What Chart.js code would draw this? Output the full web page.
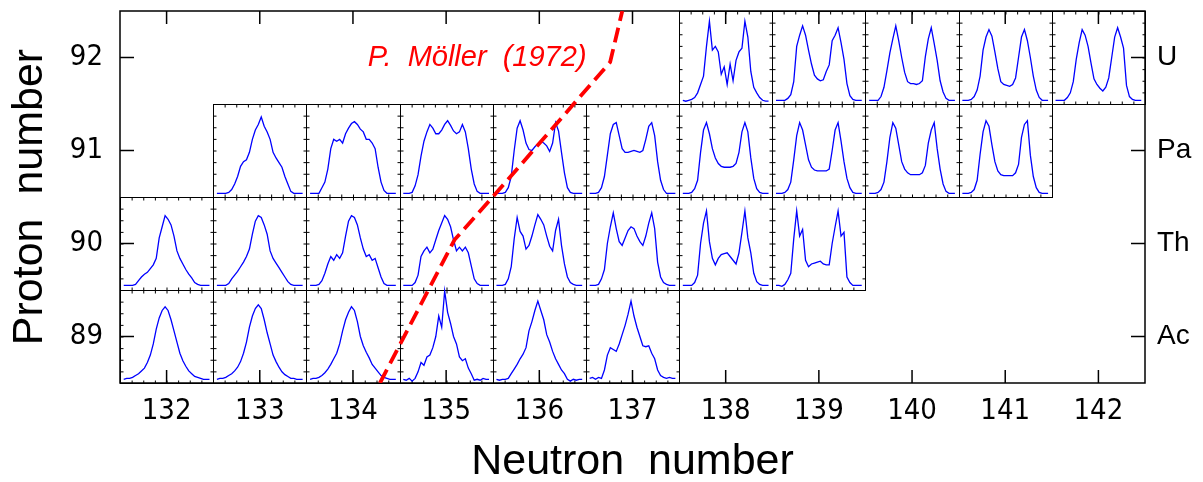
<!DOCTYPE html>
<html>
<head>
<meta charset="utf-8">
<title>Fragment charge distributions</title>
<script src="https://cdn.jsdelivr.net/npm/chart.js@4.4.1/dist/chart.umd.min.js"></script>
<style>
  body { margin: 0; background: #fff; }
  #wrap { width: 1203px; height: 482px; }
</style>
</head>
<body>
<div id="wrap"><canvas id="chargeChart" width="1203" height="482"></canvas></div>
<script>
const neutronTicks = [132, 133, 134, 135, 136, 137, 138, 139, 140, 141, 142];
const protonTicks = [89, 90, 91, 92];
const elementNames = ["Ac", "Th", "Pa", "U"];

// P. Moller (1972) boundary, neutron / proton number
const mollerN = [134.29, 135.09, 135.5, 136.76, 136.89];
const mollerZ = [88.5, 90.04, 90.5, 91.95, 92.5];
const mollerLabel = "P.  Möller  (1972)";

// fragment charge yields, read left to right across each box (% of box height)
const u138 = [4, 3, 4, 5, 7, 12, 21, 30, 62, 89, 58, 62, 56, 32, 40, 21, 43, 25, 47, 56, 60, 89, 72, 35, 18, 12, 7, 4, 3, 3];
const u139 = [4, 4, 4, 4, 6, 10, 24, 62, 74, 84, 74, 58, 43, 31, 27, 25, 26, 35, 42, 68, 74, 82, 66, 48, 22, 9, 5, 4, 4, 4];
const u140 = [4, 4, 4, 4, 8, 18, 36, 55, 70, 84, 68, 50, 34, 24, 22, 22, 21, 22, 25, 51, 70, 82, 65, 47, 25, 13, 6, 4, 4, 4];
const u141 = [4, 4, 4, 5, 8, 15, 30, 58, 72, 80, 73, 56, 38, 24, 21, 20, 19, 21, 28, 50, 72, 80, 68, 50, 30, 15, 7, 4, 4, 4];
const u142 = [4, 4, 4, 4, 7, 12, 24, 48, 66, 80, 74, 62, 44, 27, 21, 17, 14, 18, 28, 50, 72, 82, 72, 60, 20, 8, 5, 4, 4, 4];

const pa133 = [4, 4, 4, 4, 5, 8, 14, 22, 33, 38, 40, 48, 62, 72, 78, 86, 76, 70, 62, 48, 42, 37, 32, 22, 14, 6, 4, 4, 4, 4];
const pa134 = [4, 4, 4, 4, 10, 16, 30, 52, 62, 60, 62, 58, 68, 74, 79, 81, 78, 73, 70, 62, 62, 58, 52, 32, 16, 7, 4, 4, 4, 4];
const pa135 = [4, 4, 4, 5, 12, 24, 44, 60, 70, 78, 74, 68, 68, 72, 78, 82, 77, 71, 68, 70, 78, 70, 52, 30, 14, 6, 4, 4, 4, 4];
const pa136 = [4, 4, 4, 5, 10, 22, 50, 74, 82, 72, 58, 51, 50, 54, 57, 60, 58, 55, 49, 58, 80, 71, 48, 26, 10, 5, 4, 4, 4, 4];
const pa137 = [4, 4, 4, 5, 10, 22, 45, 68, 78, 80, 66, 52, 48, 48, 49, 50, 49, 48, 50, 62, 76, 80, 66, 38, 18, 8, 4, 4, 4, 4];
const pa138 = [4, 4, 4, 5, 9, 18, 48, 72, 80, 68, 52, 42, 36, 33, 32, 32, 32, 33, 36, 48, 70, 80, 70, 42, 20, 9, 5, 4, 4, 4];
const pa139 = [4, 4, 4, 5, 8, 16, 40, 66, 80, 72, 56, 40, 32, 29, 28, 28, 28, 28, 30, 50, 72, 80, 60, 38, 20, 10, 5, 4, 4, 4];
const pa140 = [4, 4, 4, 5, 8, 16, 38, 64, 80, 74, 56, 38, 30, 26, 24, 24, 24, 24, 26, 34, 58, 72, 80, 52, 30, 14, 6, 4, 4, 4];
const pa141 = [4, 4, 4, 5, 8, 18, 46, 70, 82, 76, 56, 38, 28, 24, 23, 23, 23, 23, 26, 35, 64, 78, 82, 45, 22, 10, 5, 4, 4, 4];

const th132 = [5, 5, 5, 5, 6, 10, 14, 17, 19, 23, 27, 34, 56, 68, 80, 76, 70, 58, 42, 34, 28, 22, 17, 13, 8, 6, 5, 5, 5, 5];
const th133 = [5, 5, 5, 5, 7, 12, 16, 20, 25, 30, 36, 44, 60, 74, 80, 78, 70, 60, 42, 34, 29, 24, 19, 14, 9, 6, 5, 5, 5, 5];
const th134 = [5, 5, 5, 6, 10, 18, 28, 36, 32, 38, 34, 40, 58, 74, 80, 78, 70, 56, 44, 36, 38, 32, 34, 24, 14, 7, 5, 5, 5, 5];
const th135 = [5, 5, 5, 5, 8, 16, 36, 42, 46, 40, 44, 54, 64, 72, 80, 76, 68, 54, 42, 46, 42, 46, 40, 26, 12, 7, 5, 5, 5, 5];
const th136 = [5, 5, 5, 6, 12, 25, 55, 78, 63, 58, 44, 48, 58, 70, 81, 76, 70, 58, 47, 42, 64, 76, 48, 28, 14, 8, 6, 5, 5, 5];
const th137 = [5, 5, 5, 6, 12, 22, 50, 68, 83, 66, 52, 48, 56, 64, 68, 66, 58, 52, 48, 58, 72, 83, 66, 30, 14, 8, 6, 5, 5, 5];
const th138 = [5, 5, 5, 5, 8, 16, 50, 72, 85, 52, 34, 27, 34, 38, 39, 40, 36, 32, 28, 40, 62, 85, 56, 40, 18, 9, 6, 5, 5, 5];
const th139 = [5, 5, 4, 6, 11, 18, 55, 85, 58, 65, 32, 25, 28, 29, 30, 31, 28, 27, 27, 50, 68, 85, 58, 62, 14, 8, 5, 5, 5, 5];

const ac132 = [4, 5, 5, 6, 8, 10, 13, 16, 22, 30, 42, 58, 70, 78, 82, 78, 68, 56, 44, 32, 24, 18, 13, 10, 7, 6, 5, 4, 4, 4];
const ac133 = [4, 5, 5, 6, 8, 10, 13, 17, 23, 32, 44, 60, 72, 80, 84, 80, 68, 54, 42, 30, 23, 17, 12, 9, 7, 5, 5, 4, 4, 4];
const ac134 = [4, 5, 5, 6, 8, 11, 15, 20, 26, 32, 42, 56, 68, 76, 82, 78, 66, 50, 40, 33, 27, 20, 16, 12, 8, 6, 5, 4, 4, 4];
const ac135 = [4, 3, 5, 2, 5, 12, 22, 19, 28, 30, 38, 50, 72, 60, 99, 76, 64, 50, 42, 28, 24, 26, 16, 10, 3, 4, 3, 5, 4, 4];
const ac136 = [4, 3, 4, 4, 5, 10, 15, 20, 26, 31, 38, 56, 66, 78, 88, 78, 68, 52, 44, 34, 26, 20, 14, 10, 4, 2, 4, 3, 4, 4];
const ac137 = [5, 6, 4, 6, 5, 14, 30, 38, 36, 34, 42, 52, 62, 74, 88, 72, 60, 50, 40, 39, 40, 32, 26, 14, 8, 6, 5, 6, 5, 5];

const cells = [
  { n: 138, z: 92, yields: u138 }, { n: 139, z: 92, yields: u139 }, { n: 140, z: 92, yields: u140 },
  { n: 141, z: 92, yields: u141 }, { n: 142, z: 92, yields: u142 },
  { n: 133, z: 91, yields: pa133 }, { n: 134, z: 91, yields: pa134 }, { n: 135, z: 91, yields: pa135 },
  { n: 136, z: 91, yields: pa136 }, { n: 137, z: 91, yields: pa137 }, { n: 138, z: 91, yields: pa138 },
  { n: 139, z: 91, yields: pa139 }, { n: 140, z: 91, yields: pa140 }, { n: 141, z: 91, yields: pa141 },
  { n: 132, z: 90, yields: th132 }, { n: 133, z: 90, yields: th133 }, { n: 134, z: 90, yields: th134 },
  { n: 135, z: 90, yields: th135 }, { n: 136, z: 90, yields: th136 }, { n: 137, z: 90, yields: th137 },
  { n: 138, z: 90, yields: th138 }, { n: 139, z: 90, yields: th139 },
  { n: 132, z: 89, yields: ac132 }, { n: 133, z: 89, yields: ac133 }, { n: 134, z: 89, yields: ac134 },
  { n: 135, z: 89, yields: ac135 }, { n: 136, z: 89, yields: ac136 }, { n: 137, z: 89, yields: ac137 },
];

const datasets = [
  {
    label: mollerLabel,
    data: mollerN.map((n, i) => ({ x: n, y: mollerZ[i] })),
    borderColor: "#ff0000",
    borderWidth: 3.8,
    borderDash: [15, 7],
    pointRadius: 0,
    tension: 0,
    fill: false,
  },
];

cells.forEach((c) => {
  const last = c.yields.length - 1;
  datasets.push({
    label: `Z=${c.z} N=${c.n}`,
    data: c.yields.map((v, i) => ({
      x: c.n - 0.46 + (0.92 * i) / last,
      y: c.z - 0.5 + v / 100,
    })),
    borderColor: "#0000ff",
    borderWidth: 1.3,
    pointRadius: 0,
    tension: 0,
    fill: false,
  });
});

function line(ctx, x1, y1, x2, y2) {
  ctx.beginPath();
  ctx.moveTo(x1, y1);
  ctx.lineTo(x2, y2);
  ctx.stroke();
}

// boxes around each nucleus, outer frame and the inward ticks
const boxPlugin = {
  id: "nucleusBoxes",
  beforeDatasetsDraw(chart) {
    const { ctx, chartArea: a, scales } = chart;
    const x = scales.x, y = scales.y;
    ctx.save();
    ctx.strokeStyle = "#000";
    ctx.lineWidth = 1;
    cells.forEach((c) => {
      const l = Math.round(x.getPixelForValue(c.n - 0.5)) + 0.5;
      const r = Math.round(x.getPixelForValue(c.n + 0.5)) + 0.5;
      const t = Math.round(y.getPixelForValue(c.z + 0.5)) + 0.5;
      const b = Math.round(y.getPixelForValue(c.z - 0.5)) + 0.5;
      ctx.strokeRect(l, t, r - l, b - t);
      for (let k = 1; k < 8; k++) {
        const px = l + ((r - l) * k) / 8;
        const py = t + ((b - t) * k) / 8;
        line(ctx, px, b, px, b - 3);
        line(ctx, px, t, px, t + 3);
        line(ctx, l, py, l + 3, py);
        line(ctx, r, py, r - 3, py);
      }
    });
    ctx.lineWidth = 1.5;
    ctx.strokeRect(a.left, a.top, a.right - a.left, a.bottom - a.top);
    neutronTicks.forEach((n) => {
      const px = x.getPixelForValue(n);
      line(ctx, px, a.bottom, px, a.bottom - 13);
      line(ctx, px, a.top, px, a.top + 13);
    });
    protonTicks.forEach((z) => {
      const py = y.getPixelForValue(z);
      line(ctx, a.left, py, a.left + 14, py);
      line(ctx, a.right, py, a.right - 14, py);
    });
    ctx.restore();
  },
  afterDatasetsDraw(chart) {
    const { ctx, scales } = chart;
    ctx.save();
    ctx.fillStyle = "#ff0000";
    ctx.font = "italic 29px 'Liberation Sans', Arial, sans-serif";
    ctx.textBaseline = "middle";
    ctx.textAlign = "left";
    ctx.fillText(mollerLabel, scales.x.getPixelForValue(134.16), scales.y.getPixelForValue(92.0));
    ctx.restore();
  },
};

const tickFont = { family: "'Liberation Sans Narrow', 'DejaVu Sans Condensed', 'Liberation Sans', sans-serif", size: 29 };

function fixWidth(w) {
  return (s) => { s.width = w; s.paddingTop = 0; s.paddingBottom = 0; };
}

const chargeChart = new Chart(document.getElementById("chargeChart").getContext("2d"), {
  type: "line",
  data: { datasets: datasets },
  options: {
    responsive: false,
    animation: false,
    layout: { padding: { top: 11, left: 0, right: 0, bottom: 0 } },
    plugins: {
      legend: { display: false },
      tooltip: { enabled: false },
    },
    scales: {
      x: {
        type: "linear",
        position: "bottom",
        min: 131.5,
        max: 142.5,
        afterBuildTicks: (s) => { s.ticks = neutronTicks.map((v) => ({ value: v })); },
        afterFit: (s) => { s.height = 99; s.paddingLeft = 0; s.paddingRight = 0; },
        grid: { display: false, drawTicks: false },
        border: { display: false },
        ticks: { color: "#000", font: tickFont, padding: 11, maxRotation: 0, autoSkip: false, callback: (v) => String(v) },
        title: {
          display: true,
          text: "Neutron  number",
          color: "#000",
          font: { family: "'Liberation Sans', Arial, sans-serif", size: 43, lineHeight: 0.93 },
          padding: { top: 0, bottom: 0 },
        },
      },
      y: {
        type: "linear",
        position: "left",
        min: 88.5,
        max: 92.5,
        afterBuildTicks: (s) => { s.ticks = protonTicks.map((v) => ({ value: v })); },
        afterFit: fixWidth(120),
        grid: { display: false, drawTicks: false },
        border: { display: false },
        ticks: { color: "#000", font: tickFont, padding: 17, callback: (v) => String(v) },
        title: {
          display: true,
          text: "Proton  number",
          color: "#000",
          font: { family: "'Liberation Sans', Arial, sans-serif", size: 43 },
          padding: { top: 4, bottom: 0 },
        },
      },
      y2: {
        type: "linear",
        position: "right",
        min: 88.5,
        max: 92.5,
        afterBuildTicks: (s) => { s.ticks = protonTicks.map((v) => ({ value: v })); },
        afterFit: fixWidth(58),
        grid: { display: false, drawTicks: false },
        border: { display: false },
        ticks: {
          color: "#000",
          font: { family: "'Liberation Sans', Arial, sans-serif", size: 28 },
          padding: 12,
          callback: (v) => elementNames[protonTicks.indexOf(v)],
        },
      },
    },
  },
  plugins: [boxPlugin],
});
</script>
</body>
</html>
